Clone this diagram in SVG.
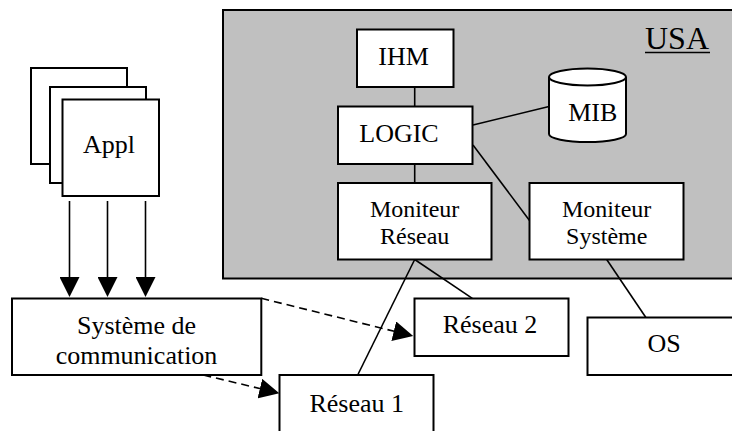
<svg xmlns="http://www.w3.org/2000/svg" width="732" height="431" viewBox="0 0 732 431">
<style>
.box{fill:#fff;stroke:#000;stroke-width:2}
.ln{fill:none;stroke:#000;stroke-width:1.6}
.dash{fill:none;stroke:#000;stroke-width:1.6;stroke-dasharray:8 5}
text{font-family:"Liberation Serif","Times New Roman",serif;fill:#000;text-anchor:middle}
.t26{font-size:26px}
.t24{font-size:24px}
</style>
<defs>
<marker id="arr" markerUnits="userSpaceOnUse" markerWidth="20" markerHeight="20" refX="10" refY="10" orient="auto">
<path d="M0,0 L20,10 L0,20 z" fill="#000"/>
</marker>
</defs>
<rect width="732" height="431" fill="#fff"/>
<g id="USA">
<rect x="223" y="10" width="520" height="268.5" fill="#c0c0c0" stroke="#000" stroke-width="2"/>
<text x="677" y="49" style="font-size:32px">USA</text>
<line x1="645" y1="52.5" x2="710" y2="52.5" stroke="#000" stroke-width="1.6"/>
</g>
<g id="connectors">
<line class="ln" x1="69.5" y1="201" x2="69.5" y2="287"  marker-end="url(#arr)"/>
<line class="ln" x1="107.5" y1="201" x2="107.5" y2="287" marker-end="url(#arr)"/>
<line class="ln" x1="145.5" y1="201" x2="145.5" y2="287" marker-end="url(#arr)"/>
<line class="ln" x1="414.7" y1="87" x2="414.7" y2="106"/>
<line class="ln" x1="414.7" y1="164" x2="414.7" y2="183"/>
<line class="ln" x1="473" y1="125" x2="549" y2="106.5"/>
<line class="ln" x1="473" y1="145" x2="529.5" y2="220.5"/>
<line class="ln" x1="414.7" y1="259.5" x2="357.7" y2="375"/>
<line class="ln" x1="414.7" y1="259.5" x2="472.3" y2="298.3"/>
<line class="ln" x1="606.7" y1="259.5" x2="645.7" y2="317.3"/>
<line class="dash" x1="261.3" y1="298.3" x2="403.5" y2="333.6" marker-end="url(#arr)"/>
<line class="dash" x1="203.3" y1="375" x2="269.6" y2="390.9" marker-end="url(#arr)"/>
</g>
<g id="appl">
<rect class="box" x="31" y="68" width="96" height="96"/>
<rect class="box" x="50" y="87" width="96" height="96"/>
<rect class="box" x="62.5" y="99.5" width="96.5" height="96.5"/>
<text class="t26" x="109" y="153">Appl</text>
</g>
<g id="ihm">
<rect class="box" x="357" y="29.5" width="96.5" height="57.5"/>
<text class="t26" x="403.5" y="65">IHM</text>
</g>
<g id="logic">
<rect class="box" x="338" y="106.5" width="134.5" height="57.5"/>
<text class="t26" x="399" y="141.7">LOGIC</text>
</g>
<g id="mib">
<path d="M549,77 L549,134 A38.5,8 0 0 0 626,134 L626,77" fill="#fff" stroke="#000" stroke-width="2"/>
<ellipse cx="587.5" cy="77" rx="38.5" ry="8.5" fill="#fff" stroke="#000" stroke-width="2"/>
<text class="t26" x="592.8" y="120.7">MIB</text>
</g>
<g id="moniteur-reseau">
<rect class="box" x="338" y="183" width="153.5" height="76.5"/>
<text class="t24" x="414.7" y="216.7">Moniteur</text>
<text class="t24" x="414.7" y="244">Réseau</text>
</g>
<g id="moniteur-systeme">
<rect class="box" x="529.5" y="183" width="154" height="76.5"/>
<text class="t24" x="606.7" y="216.7">Moniteur</text>
<text class="t24" x="606.7" y="244">Système</text>
</g>
<g id="systeme-communication">
<rect class="box" x="12" y="298.5" width="249.3" height="76.5"/>
<text class="t26" x="136.5" y="334">Système de</text>
<text class="t26" x="136.5" y="364">communication</text>
</g>
<g id="reseau2">
<rect class="box" x="414.5" y="298.5" width="154" height="57.5"/>
<text class="t26" x="490" y="333.3">Réseau 2</text>
</g>
<g id="os">
<rect class="box" x="587.5" y="317.5" width="160" height="57.5"/>
<text class="t26" x="664" y="351.7">OS</text>
</g>
<g id="reseau1">
<rect class="box" x="279.5" y="375" width="154" height="70"/>
<text class="t26" x="356.7" y="411.7">Réseau 1</text>
</g>
</svg>
